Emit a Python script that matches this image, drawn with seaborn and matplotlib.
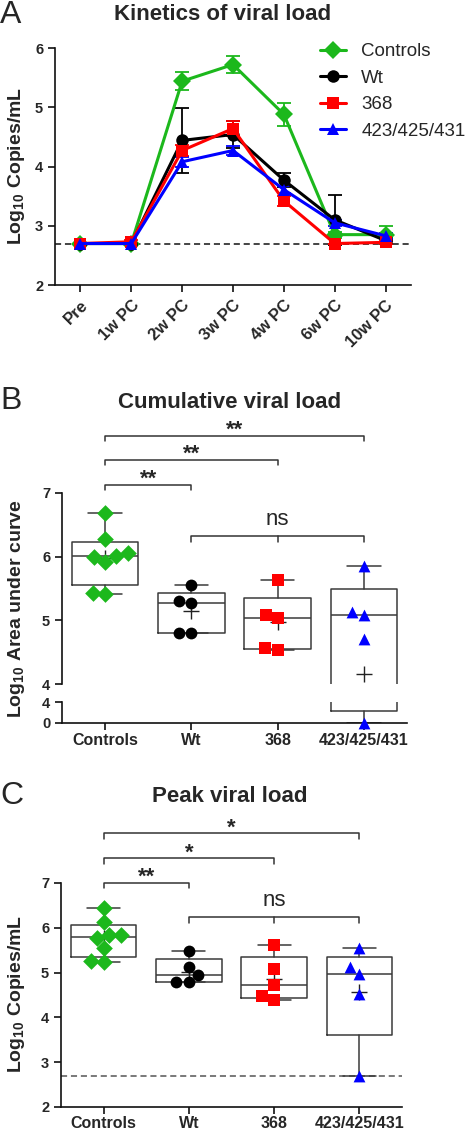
import numpy as np
import pandas as pd
import seaborn as sns
import matplotlib.pyplot as plt

sns.set_style("ticks")
plt.rcParams["font.family"] = ["Liberation Sans", "DejaVu Sans"]
plt.rcParams["mathtext.default"] = "regular"

groups = ["Controls", "Wt", "368", "423/425/431"]
colors = ["#1cb81c", "#000000", "#ff0000", "#0000ff"]
markers = ["D", "o", "s", "^"]

# panel A: kinetics (mean log10 copies/mL and SEM)
timepoints = ["Pre", "1w PC", "2w PC", "3w PC", "4w PC", "6w PC", "10w PC"]
kin_controls = [2.70, 2.70, 5.44, 5.72, 4.88, 2.85, 2.85]
kin_wt = [2.70, 2.70, 4.44, 4.54, 3.77, 3.10, 2.75]
kin_368 = [2.70, 2.73, 4.27, 4.64, 3.42, 2.70, 2.72]
kin_423 = [2.70, 2.70, 4.08, 4.27, 3.61, 3.05, 2.83]
sem_controls = [0, 0, 0.15, 0.15, 0.19, 0.05, 0.15]
sem_wt = [0, 0, 0.55, 0.23, 0.12, 0.42, 0.05]
sem_368 = [0, 0.03, 0.10, 0.13, 0.08, 0, 0.03]
sem_423 = [0, 0, 0.08, 0.07, 0.06, 0.05, 0.05]
lod = 2.70

# panel B: cumulative viral load (log10 AUC) per animal
auc_controls = [6.68, 6.28, 6.00, 6.06, 5.92, 6.01, 5.42, 5.43]
auc_wt = [5.30, 5.28, 5.55, 4.80, 4.80]
auc_368 = [5.63, 5.08, 5.03, 4.53, 4.56]
auc_423 = [5.85, 5.08, 5.13, 4.71, 0.0]

# panel C: peak viral load per animal
peak_controls = [6.45, 6.14, 5.83, 5.78, 5.85, 5.56, 5.23, 5.27]
peak_wt = [5.48, 4.95, 5.12, 4.78, 4.78]
peak_368 = [5.62, 5.08, 4.73, 4.39, 4.47]
peak_423 = [5.55, 5.13, 4.97, 4.52, 2.70]

kin = [kin_controls, kin_wt, kin_368, kin_423]
sems = [sem_controls, sem_wt, sem_368, sem_423]
auc = [auc_controls, auc_wt, auc_368, auc_423]
peak = [peak_controls, peak_wt, peak_368, peak_423]

W, H = 466, 1129
fig = plt.figure(figsize=(W / 100, H / 100), dpi=100)


def rect(l, t, r, b):
    return [l / W, 1 - b / H, (r - l) / W, (b - t) / H]


def style_axis(ax):
    sns.despine(ax=ax)
    for s in ["left", "bottom"]:
        ax.spines[s].set_linewidth(1.2)
        ax.spines[s].set_color("#111111")
    ax.tick_params(width=1.2, length=5, color="#111111", labelsize=10.5)
    ax.tick_params(axis="x", pad=2.5, labelsize=11.5)
    for lab in ax.get_yticklabels() + ax.get_xticklabels():
        lab.set_fontweight("bold")


def long_frame(values):
    return pd.DataFrame({"group": np.repeat(groups, [len(v) for v in values]),
                         "value": np.concatenate(values)})


def box_stats(vals):
    q1, med, q3 = np.percentile(vals, [25, 50, 75], method="weibull")
    return dict(med=med, q1=q1, q3=q3, whislo=min(vals), whishi=max(vals),
                mean=np.mean(vals), fliers=[])


def draw_boxes(ax, values, means=True):
    lc = "#3a3a3a"
    ax.bxp([box_stats(v) for v in values], positions=range(len(values)), widths=0.77,
           capwidths=0.39, showmeans=means, manage_ticks=False,
           boxprops=dict(color=lc, lw=1.1), whiskerprops=dict(color=lc, lw=1.1),
           capprops=dict(color=lc, lw=1.1), medianprops=dict(color=lc, lw=1.1),
           meanprops=dict(marker="+", markeredgecolor="#222222", markersize=11,
                          markeredgewidth=1.0))


def draw_points(ax, df, clip=True):
    for g, c, m in zip(groups, colors, markers):
        sub = df[df.group == g]
        if len(sub) == 0:
            continue
        before = len(ax.collections)
        sns.swarmplot(data=sub, x="group", y="value", order=groups, color=c,
                      marker=m, size=8.5, linewidth=0, ax=ax)
        if not clip:
            for coll in ax.collections[before:]:
                coll.set_clip_on(False)


def bracket(ax, x1, x2, y, drop, text, mid=None, dy=0, fs=16, weight="bold"):
    lc = "#333333"
    ax.plot([x1, x1, x2, x2], [y - drop, y, y, y - drop], color=lc, lw=1.1, clip_on=False)
    if mid is not None:
        ax.plot([mid, mid], [y, y - drop], color=lc, lw=1.1, clip_on=False)
    ax.annotate(text, xy=((x1 + x2) / 2, y), xytext=(0, dy), textcoords="offset points",
                ha="center", va="baseline", fontsize=fs, fontweight=weight,
                annotation_clip=False)


# ---------------- panel A ----------------
axA = fig.add_axes(rect(55, 48, 411, 285))
x = np.arange(len(timepoints))
axA.axhline(lod, color="#111111", lw=1.1, ls=(0, (4, 2.5)), zorder=1)
for g, c, m, vals, err in zip(groups, colors, markers, kin, sems):
    axA.errorbar(x, vals, yerr=err, fmt="none", ecolor=c, elinewidth=1.3, capsize=5,
                 capthick=1.3, zorder=2)
    sns.lineplot(x=x, y=vals, color=c, marker=m, markersize=9, markeredgewidth=0,
                 lw=2.2, label=g, ax=axA, zorder=3)
axA.set_xlim(-0.5, 6.5)
axA.set_ylim(2, 6)
axA.set_yticks([2, 3, 4, 5, 6])
axA.set_xticks(x)
axA.set_xticklabels(timepoints, rotation=45, ha="right", rotation_mode="anchor")
axA.set_xlabel("")
style_axis(axA)
axA.tick_params(axis="x", labelsize=12, pad=4)
axA.legend(loc="upper left", bbox_to_anchor=(320 / W, 1 - 43 / H),
           bbox_transform=fig.transFigure, frameon=False, fontsize=13.5,
           handlelength=1.4, handletextpad=0.8, labelspacing=0.5,
           borderaxespad=0, borderpad=0)

# ---------------- panel B ----------------
dfB = long_frame(auc)
axB = fig.add_axes(rect(62, 493, 407, 684))
axB2 = fig.add_axes(rect(62, 702, 407, 723))
draw_boxes(axB, auc)
draw_points(axB, dfB)
axB.set_ylim(4, 7)
axB.set_yticks([4, 5, 6, 7])
axB.set_xlim(-0.5, 3.5)
axB.set_xlabel("")
axB.set_ylabel("")
style_axis(axB)
axB.spines["bottom"].set_visible(False)
axB.tick_params(axis="x", bottom=False, labelbottom=False)

draw_boxes(axB2, auc, means=False)
draw_points(axB2, dfB[dfB.value < 4], clip=False)
axB2.set_ylim(0, 4)
axB2.set_yticks([0, 4])
axB2.set_xlim(-0.5, 3.5)
axB2.set_xticks(range(4))
axB2.set_xticklabels(groups)
axB2.set_xlabel("")
axB2.set_ylabel("")
style_axis(axB2)

bracket(axB, 0, 3, 7.90, 0.08, "**")
bracket(axB, 0, 2, 7.52, 0.08, "**")
bracket(axB, 0, 1, 7.13, 0.08, "**")
bracket(axB, 1, 3, 6.32, 0.09, "ns", mid=2, dy=8, weight="normal")

# ---------------- panel C ----------------
dfC = long_frame(peak)
axC = fig.add_axes(rect(61, 883, 402, 1107))
axC.axhline(lod, color="#555555", lw=1.1, ls=(0, (4, 2.5)), zorder=0)
draw_boxes(axC, peak)
draw_points(axC, dfC)
axC.set_ylim(2, 7)
axC.set_yticks([2, 3, 4, 5, 6, 7])
axC.set_xlim(-0.5, 3.5)
axC.set_xticks(range(4))
axC.set_xticklabels(groups)
axC.set_xlabel("")
axC.set_ylabel("")
style_axis(axC)
axC.tick_params(axis="x", pad=1.5)

bracket(axC, 0, 3, 8.11, 0.12, "*")
bracket(axC, 0, 2, 7.55, 0.12, "*")
bracket(axC, 0, 1, 7.00, 0.12, "**")
bracket(axC, 1, 3, 6.24, 0.14, "ns", mid=2, dy=8, weight="normal")

# ---------------- titles and labels ----------------
fig.text(223 / W, 1 - 14 / H, "Kinetics of viral load", ha="center", va="center",
         fontsize=16, fontweight="bold")
fig.text(230 / W, 1 - 402 / H, "Cumulative viral load", ha="center", va="center",
         fontsize=16, fontweight="bold")
fig.text(230 / W, 1 - 797 / H, "Peak viral load", ha="center", va="center",
         fontsize=16, fontweight="bold")
for letter, yy in [("A", 15), ("B", 401), ("C", 796)]:
    fig.text(0, 1 - yy / H, letter, ha="left", va="center", fontsize=23)
for label, yy in [("Log$_{10}$ Copies/mL", 166), ("Log$_{10}$ Area under curve", 609),
                  ("Log$_{10}$ Copies/mL", 994)]:
    fig.text(17 / W, 1 - yy / H, label, ha="center", va="center", rotation=90,
             fontsize=14, fontweight="bold")

fig.savefig("out.png", dpi=100)
